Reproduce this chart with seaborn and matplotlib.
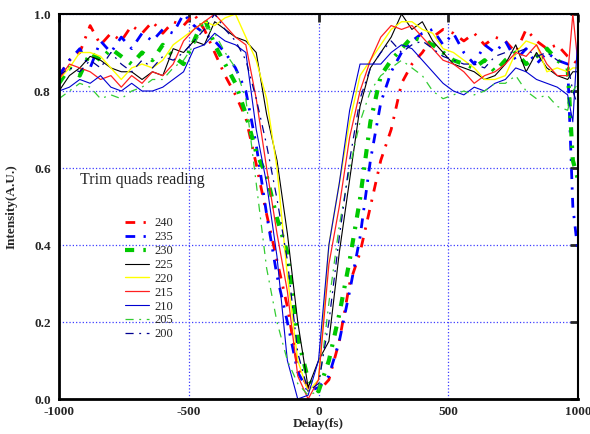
import numpy as np
import pandas as pd
import matplotlib
matplotlib.use('Agg')
import matplotlib.pyplot as plt
import seaborn as sns

# Delay axis (fs), shared by all scans
delay = [-1000, -960, -920, -880, -840, -800, -760, -720, -680, -640,
         -600, -560, -520, -480, -440, -400, -360, -320, -280, -240,
         -200, -160, -120, -80, -40, 0, 40, 80, 120, 160,
         200, 240, 280, 320, 360, 400, 440, 480, 520, 560,
         600, 640, 680, 720, 760, 800, 840, 880, 920, 960,
         980, 1000]

# Intensity for each trim quad reading
q240 = [0.84, 0.88, 0.90, 0.97, 0.92, 0.95, 0.93, 0.97, 0.95, 0.98,
        0.95, 0.98, 0.97, 1.00, 0.96, 0.90, 0.84, 0.79, 0.73, 0.61,
        0.48, 0.36, 0.24, 0.08, 0.03, 0.02, 0.05, 0.15, 0.30, 0.38,
        0.50, 0.62, 0.70, 0.82, 0.87, 0.90, 0.94, 0.96, 0.95, 0.93,
        0.95, 0.92, 0.94, 0.93, 0.90, 0.96, 0.93, 0.91, 0.92, 0.89,
        0.88, 0.87]
q235 = [0.84, 0.88, 0.91, 0.86, 0.93, 0.90, 0.94, 0.91, 0.95, 0.93,
        0.96, 0.95, 1.00, 0.97, 0.95, 0.93, 0.90, 0.86, 0.80, 0.66,
        0.48, 0.32, 0.20, 0.07, 0.02, 0.03, 0.06, 0.15, 0.28, 0.42,
        0.62, 0.77, 0.85, 0.90, 0.93, 0.95, 0.96, 0.92, 0.95, 0.90,
        0.87, 0.92, 0.90, 0.93, 0.88, 0.91, 0.87, 0.90, 0.88, 0.87,
        0.50, 0.38]
q230 = [0.82, 0.86, 0.84, 0.90, 0.88, 0.91, 0.89, 0.87, 0.90, 0.88,
        0.92, 0.89, 0.87, 0.93, 0.99, 0.92, 0.87, 0.82, 0.74, 0.64,
        0.58, 0.47, 0.38, 0.16, 0.05, 0.02, 0.10, 0.22, 0.36, 0.52,
        0.72, 0.84, 0.88, 0.91, 0.94, 0.93, 0.92, 0.90, 0.88, 0.87,
        0.86, 0.88, 0.85, 0.88, 0.90, 0.87, 0.89, 0.91, 0.88, 0.86,
        0.62, 0.57]
q225 = [0.80, 0.84, 0.86, 0.89, 0.88, 0.86, 0.85, 0.85, 0.83, 0.85,
        0.84, 0.91, 0.90, 0.93, 0.92, 0.98, 0.96, 0.94, 0.93, 0.90,
        0.74, 0.62, 0.43, 0.20, 0.03, 0.10, 0.15, 0.38, 0.57, 0.76,
        0.86, 0.90, 0.94, 1.00, 0.96, 0.98, 0.93, 0.90, 0.87, 0.86,
        0.85, 0.83, 0.84, 0.87, 0.92, 0.85, 0.90, 0.86, 0.84, 0.83,
        0.85, 0.85]
q220 = [0.83, 0.86, 0.90, 0.90, 0.89, 0.86, 0.83, 0.86, 0.87, 0.86,
        0.88, 0.92, 0.94, 0.96, 0.98, 0.97, 0.99, 1.00, 0.94, 0.88,
        0.78, 0.60, 0.32, 0.10, 0.02, 0.05, 0.40, 0.56, 0.72, 0.84,
        0.88, 0.92, 0.96, 0.98, 0.98, 0.96, 0.95, 0.91, 0.90, 0.88,
        0.86, 0.83, 0.83, 0.84, 0.90, 0.93, 0.92, 0.85, 0.86, 0.85,
        0.86, 0.86]
q215 = [0.83, 0.87, 0.86, 0.85, 0.83, 0.84, 0.81, 0.84, 0.82, 0.85,
        0.84, 0.87, 0.93, 0.96, 0.98, 1.00, 0.97, 0.94, 0.92, 0.78,
        0.60, 0.43, 0.28, 0.06, 0.00, 0.05, 0.35, 0.50, 0.68, 0.80,
        0.88, 0.94, 0.97, 0.96, 0.97, 0.94, 0.91, 0.88, 0.87, 0.85,
        0.82, 0.84, 0.85, 0.87, 0.90, 0.89, 0.92, 0.87, 0.84, 0.84,
        1.00, 0.87]
q210 = [0.80, 0.81, 0.83, 0.82, 0.84, 0.81, 0.80, 0.82, 0.80, 0.80,
        0.81, 0.83, 0.85, 0.91, 0.92, 0.95, 0.93, 0.92, 0.90, 0.70,
        0.56, 0.37, 0.10, 0.00, 0.01, 0.10, 0.40, 0.56, 0.75, 0.87,
        0.87, 0.87, 0.90, 0.92, 0.91, 0.88, 0.85, 0.82, 0.80, 0.79,
        0.81, 0.80, 0.82, 0.83, 0.86, 0.85, 0.83, 0.82, 0.81, 0.79,
        0.72, 0.95]
q205 = [0.78, 0.80, 0.82, 0.81, 0.78, 0.79, 0.78, 0.80, 0.81, 0.83,
        0.83, 0.86, 0.88, 0.92, 0.97, 0.95, 0.90, 0.86, 0.78, 0.56,
        0.34, 0.20, 0.10, 0.04, 0.01, 0.02, 0.25, 0.45, 0.60, 0.72,
        0.80, 0.84, 0.86, 0.88, 0.86, 0.84, 0.80, 0.78, 0.79, 0.80,
        0.79, 0.80, 0.82, 0.82, 0.84, 0.80, 0.78, 0.79, 0.76, 0.75,
        0.80, 0.82]
q200 = [0.84, 0.86, 0.85, 0.88, 0.86, 0.90, 0.87, 0.85, 0.88, 0.86,
        0.89, 0.88, 0.90, 0.93, 0.96, 1.00, 0.96, 0.93, 0.88, 0.78,
        0.66, 0.52, 0.36, 0.12, 0.02, 0.04, 0.20, 0.42, 0.62, 0.78,
        0.86, 0.90, 0.93, 0.90, 0.92, 0.93, 0.91, 0.89, 0.88, 0.87,
        0.87, 0.86, 0.89, 0.90, 0.90, 0.91, 0.89, 0.90, 0.88, 0.87,
        0.80, 0.76]

readings = ['240', '235', '230', '225', '220', '215', '210', '205', '200']
scans = [q240, q235, q230, q225, q220, q215, q210, q205, q200]

df = pd.concat([pd.DataFrame({'delay': delay, 'intensity': s, 'reading': r})
                for r, s in zip(readings, scans)], ignore_index=True)

# line look for each reading
styles = {
    '240': dict(color='#ff0000', lw=2.0, ls=(0, (3.5, 3.0, 0.8, 3.0))),
    '235': dict(color='#0000ff', lw=2.0, ls=(0, (3.5, 3.0, 0.8, 3.0))),
    '230': dict(color='#00c800', lw=3.0, ls=(0, (2.2, 2.2, 0.6, 2.2))),
    '225': dict(color='#000000', lw=0.8, ls='-'),
    '220': dict(color='#ffff00', lw=1.0, ls='-'),
    '215': dict(color='#ff2020', lw=0.9, ls='-'),
    '210': dict(color='#0000d0', lw=0.8, ls='-'),
    '205': dict(color='#33cc33', lw=0.9, ls=(0, (6.5, 4.5, 1.5, 4.5))),
    '200': dict(color='#000090', lw=0.9, ls=(0, (6.5, 4.5, 1.5, 4.5))),
}

sns.set_style('white')
plt.rcParams['font.family'] = ['Liberation Serif', 'DejaVu Serif']
plt.rcParams['axes.unicode_minus'] = False

fig = plt.figure(figsize=(5.9, 4.34), dpi=100)
ax = fig.add_axes([0.1, 0.0806, 0.8797, 0.8871])

for r in readings:
    sub = df[df['reading'] == r]
    st = styles[r]
    sns.lineplot(data=sub, x='delay', y='intensity', ax=ax, color=st['color'],
                 linewidth=st['lw'], linestyle=st['ls'], label=r)

ax.set_xlim(-1000, 1000)
ax.set_ylim(0, 1.0)
ax.set_xticks([-1000, -500, 0, 500, 1000])
ax.set_xticklabels(['-1000', '-500', '0', '500', '1000'])
ax.set_yticks([0.0, 0.2, 0.4, 0.6, 0.8, 1.0])
ax.set_yticklabels(['0.0', '0.2', '0.4', '0.6', '0.8', '1.0'])
ax.grid(True, color='#3c3cff', ls=':', lw=0.9)
ax.tick_params(direction='in', length=6, width=2, top=True, right=True,
               labelsize=9.5)
ax.tick_params(axis='x', pad=5)
ax.tick_params(axis='y', pad=6)
for lab in ax.get_xticklabels() + ax.get_yticklabels():
    lab.set_fontweight('bold')
for side in ['left', 'bottom']:
    ax.spines[side].set_linewidth(2)
for side in ['top', 'right']:
    ax.spines[side].set_linewidth(1.5)
for sp in ax.spines.values():
    sp.set_color('black')

ax.set_xlabel('Delay(fs)', fontsize=9.5, fontweight='bold', labelpad=0)
ax.set_ylabel('Intensity(A.U.)', fontsize=9.5, fontweight='bold', labelpad=12)

ax.text(0.04, 0.57, 'Trim quads reading', transform=ax.transAxes,
        fontsize=11.5, va='center', ha='left')

ax.legend(loc='upper left', bbox_to_anchor=(0.127, 0.472), frameon=False,
          fontsize=9, handlelength=1.9, handletextpad=0.5,
          labelspacing=0.15, borderpad=0, borderaxespad=0)

fig.savefig('out.png', dpi=100)
